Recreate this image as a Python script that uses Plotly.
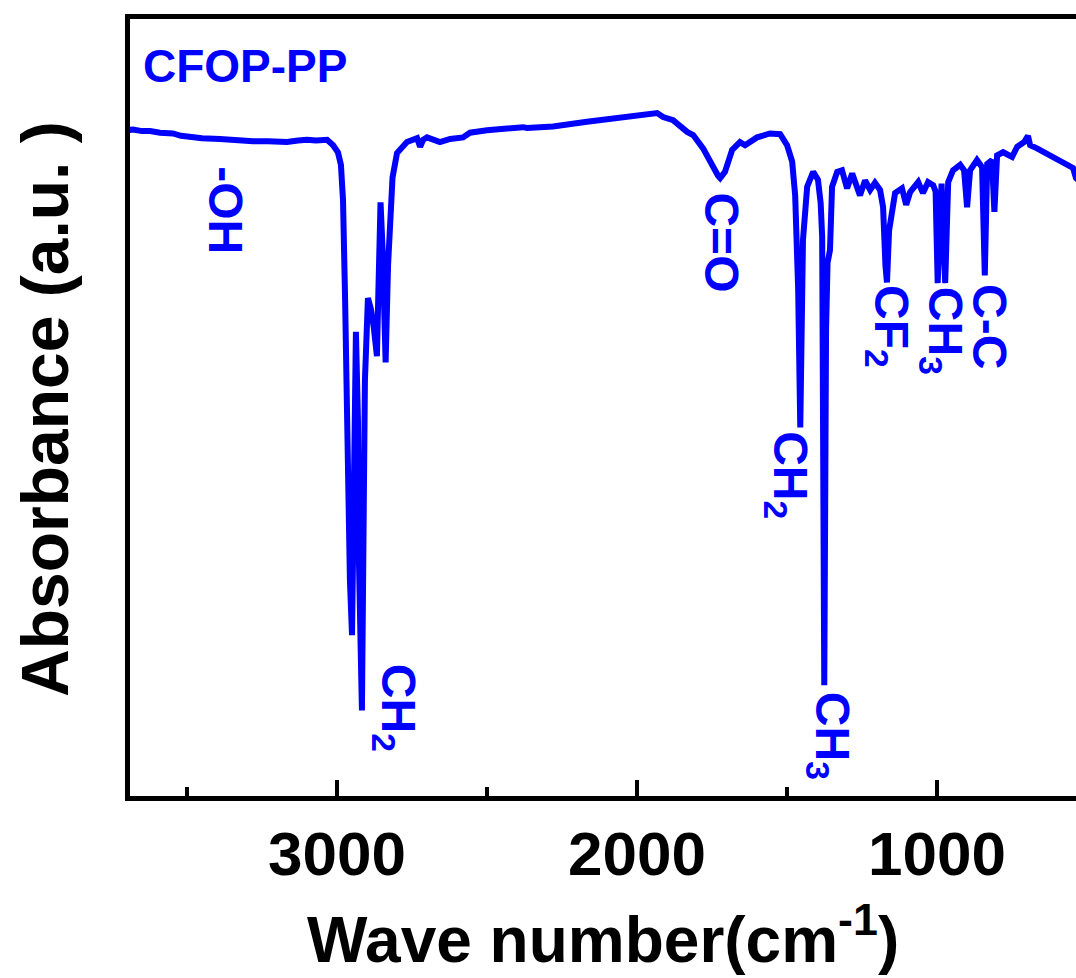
import plotly.graph_objects as go

# Wavenumber (cm-1) and absorbance-like intensity
wavenumber = [3703, 3680, 3650, 3623, 3590, 3547, 3520, 3490, 3450, 3390, 3330, 3280, 3230, 3167,
              3130, 3100, 3070, 3033, 3013, 2997, 2987, 2980, 2973, 2967, 2963, 2957, 2950, 2943,
              2937, 2930, 2927, 2917, 2913, 2907, 2897, 2887, 2877, 2867, 2862, 2855, 2848, 2838,
              2830, 2822, 2815, 2800, 2767, 2733, 2723, 2713, 2700, 2657, 2623, 2580, 2557, 2500,
              2433, 2380, 2367, 2280, 2167, 2057, 1933, 1913, 1880, 1833, 1813, 1780, 1747, 1730,
              1723, 1715, 1707, 1683, 1657, 1640, 1600, 1557, 1523, 1500, 1483, 1473, 1463, 1456,
              1450, 1447, 1433, 1413, 1397, 1388, 1383, 1376, 1370, 1365, 1357, 1350, 1333, 1317,
              1300, 1283, 1257, 1240, 1223, 1207, 1190, 1180, 1172, 1167, 1160, 1150, 1140, 1117,
              1103, 1090, 1063, 1047, 1030, 1013, 1005, 998, 990, 985, 973, 966, 963, 947, 923,
              910, 900, 890, 867, 850, 841, 833, 817, 809, 800, 780, 750, 733, 710, 697, 690, 667,
              640, 613, 580, 547, 537, 500]
absorbance = [85.3, 85.4, 85.2, 85.2, 85.0, 84.9, 84.6, 84.4, 84.3, 84.2, 84.0, 83.9, 83.9, 83.8,
              84.0, 84.1, 84.0, 84.1, 83.4, 82.5, 80.9, 76.4, 63.6, 48.3, 35.6, 27.9, 20.9, 44.5,
              59.6, 48.0, 30.5, 11.3, 38.1, 53.4, 63.9, 62.5, 60.0, 56.5, 65.0, 76.1, 70.0, 55.7,
              68.0, 76.5, 79.3, 82.4, 83.8, 84.3, 83.2, 84.1, 84.4, 83.8, 84.2, 84.4, 85.0, 85.3,
              85.6, 85.7, 85.6, 85.8, 86.4, 86.9, 87.5, 87.0, 86.6, 85.1, 84.7, 83.0, 80.5, 79.5,
              79.2, 79.6, 80.0, 82.8, 83.8, 83.4, 84.4, 84.9, 84.8, 83.4, 81.3, 77.0, 65.0, 47.4,
              62.0, 71.3, 78.1, 80.0, 79.0, 76.0, 71.7, 14.5, 60.0, 68.4, 70.0, 78.1, 80.0, 80.2,
              77.9, 79.8, 77.0, 78.9, 77.7, 78.6, 77.7, 75.5, 68.0, 65.9, 72.5, 75.5, 77.3, 77.9,
              75.8, 77.4, 78.7, 77.3, 78.7, 78.3, 77.5, 65.8, 78.1, 78.5, 65.8, 78.5, 78.7, 80.2, 80.9,
              80.2, 75.5, 80.2, 81.5, 80.6, 66.8, 81.0, 81.5, 74.9, 82.1, 82.5, 81.9, 83.2, 83.8, 84.6,
              83.4, 83.0, 82.4, 82.0, 81.1, 80.5, 79.2, 78.0]

tick_values = [3000, 2000, 1000]
tick_labels = ["3000", "2000", "1000"]

# Peak labels: text, wavenumber, intensity position
label_texts = ["-OH", "CH<sub>2</sub>", "C=O", "CH<sub>2</sub>", "CH<sub>3</sub>",
               "CF<sub>2</sub>", "CH<sub>3</sub>", "C-C"]
label_x = [3370, 2806, 1717, 1500, 1362, 1163, 983, 823]
label_y = [75.1, 11.6, 71.0, 41.3, 8.0, 60.3, 59.7, 60.3]

BLUE = "#0000FF"
FONT = "Liberation Sans"

fig = go.Figure()
fig.add_trace(go.Scatter(x=wavenumber, y=absorbance, mode="lines",
                         line=dict(color=BLUE, width=6), showlegend=False, hoverinfo="skip"))

for t, x, y in zip(label_texts, label_x, label_y):
    fig.add_annotation(x=x, y=y, xref="x", yref="y", text=t, showarrow=False, textangle=90,
                       font=dict(family=FONT, size=48, color=BLUE, weight="bold"),
                       xanchor="center", yanchor="middle")

fig.add_annotation(x=0.1216, y=0.9395, xref="paper", yref="paper", text="CFOP-PP", showarrow=False,
                   font=dict(family=FONT, size=46, color=BLUE, weight="bold"),
                   xanchor="center", yanchor="middle")

fig.add_annotation(x=0.5, y=-0.179, xref="paper", yref="paper",
                   text="Wave number(cm<sup>-1</sup>)", showarrow=False,
                   font=dict(family=FONT, size=64, color="black", weight="bold"),
                   xanchor="center", yanchor="middle")

fig.add_annotation(x=-0.0899, y=0.498, xref="paper", yref="paper",
                   text="Absorbance (a.u. )", showarrow=False, textangle=-90,
                   font=dict(family=FONT, size=66, color="black", weight="bold"),
                   xanchor="center", yanchor="middle")

fig.update_layout(
    width=1076, height=978,
    margin=dict(l=130, r=0, t=19, b=182),
    paper_bgcolor="white", plot_bgcolor="white",
    xaxis=dict(range=[3690, 537], showline=True, linecolor="black", linewidth=5, mirror=True,
               showgrid=False, zeroline=False, tickmode="array", tickvals=tick_values,
               ticktext=tick_labels, ticks="inside", ticklen=16, tickwidth=4, tickcolor="black",
               tickfont=dict(family=FONT, size=62, color="black", weight="bold"),
               minor=dict(tickvals=[3500, 2500, 1500], ticks="inside", ticklen=9, tickwidth=4,
                          tickcolor="black", showgrid=False)),
    yaxis=dict(range=[0.38, 99.5], showline=True, linecolor="black", linewidth=5, mirror=False,
               showgrid=False, zeroline=False, showticklabels=False, ticks=""),
)

fig.write_html("out.html")
